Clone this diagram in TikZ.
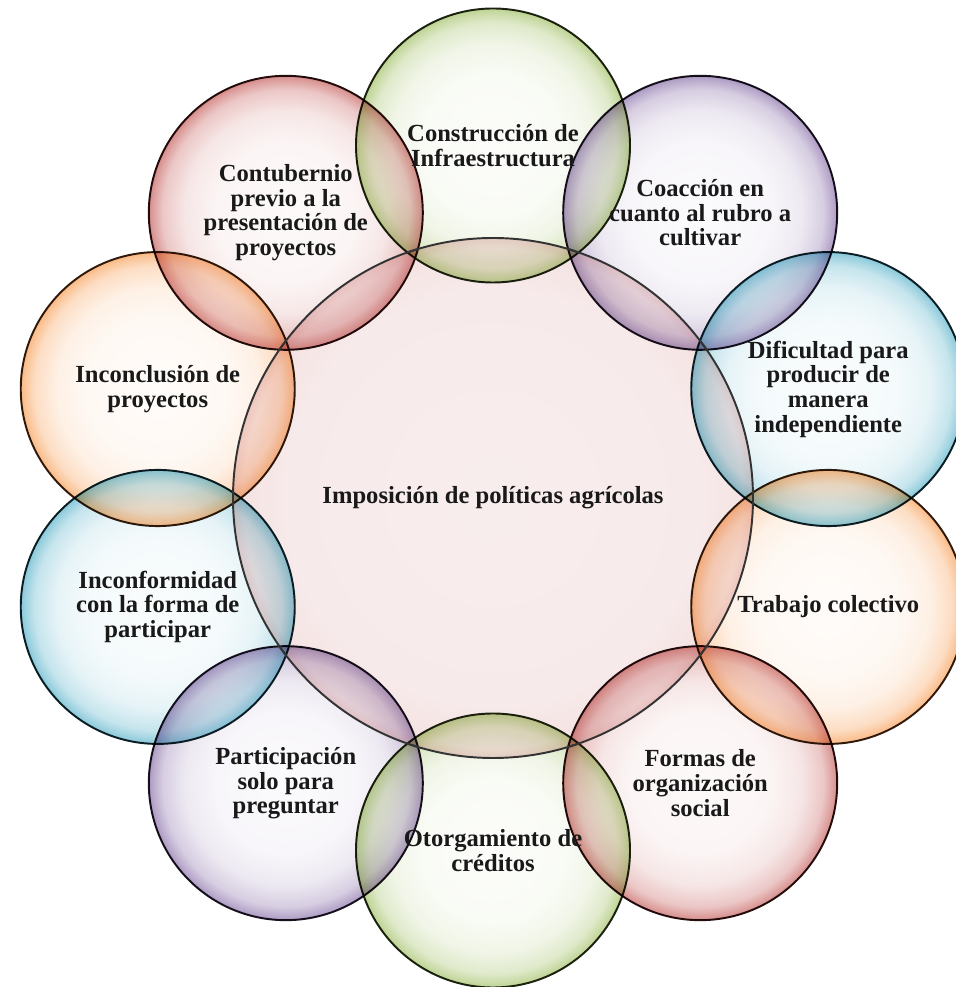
\documentclass[tikz,border=0pt]{standalone}
\usepackage{fontspec}
\setmainfont{Liberation Serif}
\usetikzlibrary{shapes,positioning}

\definecolor{verde}{HTML}{9BBB59}
\definecolor{morado}{HTML}{8064A2}
\definecolor{aqua}{HTML}{4BACC6}
\definecolor{naranja}{HTML}{F79646}
\definecolor{rojo}{HTML}{C0504D}
\definecolor{rosa}{RGB}{247,234,234}
\colorlet{bubcol}{verde}

\pgfdeclareradialshading[bubcol]{burbuja}{\pgfpoint{0bp}{0bp}}{color(0bp)=(bubcol!3); color(13bp)=(bubcol!6); color(18.5bp)=(bubcol!14); color(22.5bp)=(bubcol!32); color(24.5bp)=(bubcol!58); color(25bp)=(bubcol!68); color(50bp)=(bubcol!68)}
\pgfdeclareradialshading{centro}{\pgfpoint{0bp}{0bp}}{color(0bp)=(rosa!85); color(20bp)=(rosa); color(24bp)=(rojo!16); color(25bp)=(rojo!26); color(50bp)=(rojo!26)}

\tikzset{
  burbuja/.style={circle, minimum size=5.48cm, inner sep=0pt, shading=burbuja, blend mode=multiply, draw=bubcol!20!black, line width=1.1pt},
  nucleo/.style={circle, minimum size=10.4cm, inner sep=0pt, shading=centro},
  texto/.style={font=\bfseries\fontsize{14}{14}\selectfont, align=center, text=black!90, inner sep=0pt}
}

\begin{document}
\begin{tikzpicture}
  \useasboundingbox (0,0) rectangle (19.12,19.74);
  \node[nucleo] (centro) at (9.86,9.78) {};
  % circulos alrededor
  \foreach \ang/\col [count=\i] in {90/verde,54/morado,18/aqua,-18/naranja,-54/rojo,-90/verde,-126/morado,-162/aqua,162/naranja,126/rojo}{
    \colorlet{bubcol}{\col}
    \node[burbuja] (c\i) at ([shift={(\ang:7.05cm)}]centro.center) {};
  }
  \foreach \i in {1,...,10}{
    \begin{scope}
      \clip (c\i.center) circle[radius=2.74cm];
      \draw[black!80, line width=1.1pt] (centro.center) circle[radius=5.2cm];
    \end{scope}
  }
  \node[texto] (tcentro) at (centro) {Imposición de políticas agrícolas};
  \node[texto] (t1) at (c1) {Construcción de\\Infraestructura};
  \node[texto] (t2) at (c2) {Coacción en\\cuanto al rubro a\\cultivar};
  \node[texto] (t3) at (c3) {Dificultad para\\producir de\\manera\\independiente};
  \node[texto] (t4) at (c4) {Trabajo colectivo};
  \node[texto] (t5) at (c5) {Formas de\\organización\\social};
  \node[texto] (t6) at (c6) {Otorgamiento de\\créditos};
  \node[texto] (t7) at (c7) {Participación\\solo para\\preguntar};
  \node[texto] (t8) at (c8) {Inconformidad\\con la forma de\\participar};
  \node[texto] (t9) at (c9) {Inconclusión de\\proyectos};
  \node[texto] (t10) at (c10) {Contubernio\\previo a la\\presentación de\\proyectos};
\end{tikzpicture}
\end{document}
